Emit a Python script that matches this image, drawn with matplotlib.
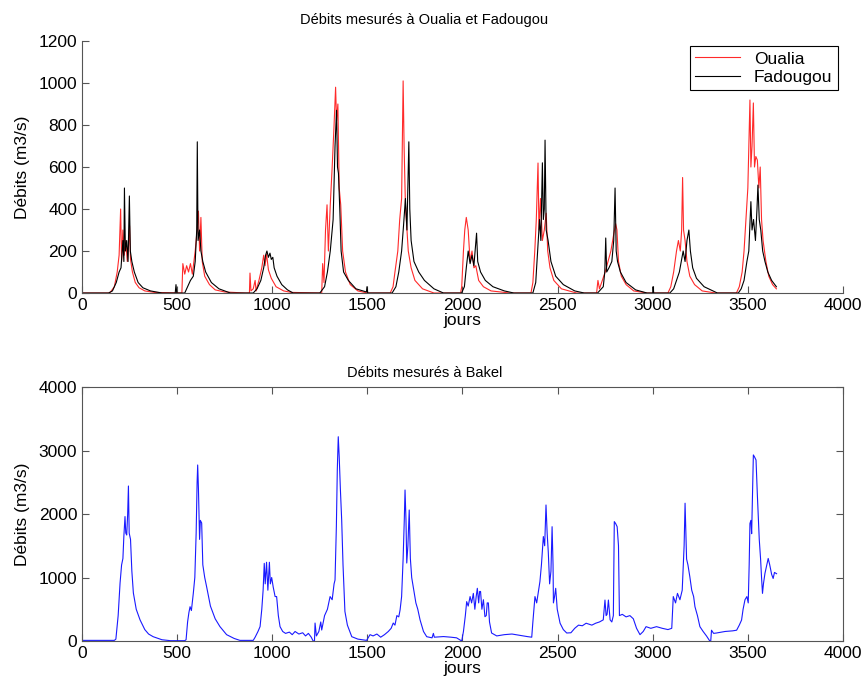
import matplotlib.pyplot as plt

plt.rcParams["font.family"] = ["Liberation Sans", "DejaVu Sans"]

# Oualia (red) - jour, debit
oualia_jours = [0, 140, 150, 170, 185, 195, 203, 208, 215, 222, 230, 238, 245, 250, 255, 265, 280, 300, 330, 380, 520,
                525, 530, 540, 550, 560, 570, 580, 595, 605, 612, 618, 625, 632, 645, 670, 700, 750, 860,
                880, 883, 888, 900, 910, 915, 930, 945, 955, 962, 970, 980, 995, 1020, 1060, 1100, 1260,
                1265, 1272, 1280, 1288, 1295, 1305, 1315, 1325, 1333, 1338, 1345, 1352, 1360, 1370, 1385, 1410, 1450, 1500,
                1620, 1635, 1645, 1660, 1670, 1680, 1688, 1693, 1700, 1708, 1715, 1730, 1750, 1790, 1850,
                1990, 1996, 2005, 2012, 2020, 2030, 2040, 2050, 2060, 2070, 2085, 2110, 2150, 2250,
                2360, 2370, 2380, 2388, 2397, 2402, 2410, 2420, 2430, 2440, 2448, 2460, 2480, 2520, 2600,
                2705, 2712, 2720, 2735, 2750, 2765, 2780, 2795, 2805, 2812, 2820, 2835, 2860, 2900, 2970,
                3080, 3095, 3110, 3125, 3135, 3145, 3152, 3157, 3162, 3170, 3180, 3195, 3220, 3260, 3330,
                3440, 3455, 3470, 3480, 3490, 3500, 3511, 3516, 3522, 3529, 3535, 3542, 3550, 3558, 3565, 3572,
                3580, 3595, 3610, 3630, 3650]
oualia_debits = [0, 0, 5, 30, 100, 180, 400, 150, 300, 180, 250, 150, 230, 320, 160, 100, 50, 25, 10, 3, 0,
                 0, 140, 90, 130, 100, 140, 90, 200, 300, 390, 200, 360, 150, 80, 40, 15, 5, 0,
                 0, 95, 10, 20, 60, 10, 60, 120, 180, 130, 185, 110, 70, 30, 10, 3, 0,
                 140, 50, 300, 420, 200, 420, 600, 800, 980, 820, 900, 500, 420, 200, 100, 40, 10, 0,
                 0, 30, 100, 200, 350, 450, 1010, 700, 420, 300, 200, 120, 60, 20, 0,
                 0, 30, 200, 300, 360, 300, 150, 200, 120, 130, 60, 30, 10, 0,
                 0, 50, 200, 350, 619, 300, 450, 250, 300, 380, 200, 120, 60, 20, 0,
                 0, 60, 20, 60, 100, 150, 200, 280, 330, 300, 150, 80, 40, 10, 0,
                 0, 30, 100, 200, 250, 200, 300, 550, 300, 250, 150, 80, 40, 10, 0,
                 0, 30, 100, 200, 350, 500, 919, 600, 700, 905, 600, 650, 633, 500, 600, 350,
                 250, 150, 80, 40, 20]

# Fadougou (black)
fadougou_jours = [0, 140, 160, 180, 195, 205, 215, 220, 223, 228, 235, 242, 249, 254, 262, 275, 295, 320, 360, 420,
                  490, 494, 498, 540, 555, 570, 585, 595, 603, 606, 610, 618, 625, 635, 650, 680, 720, 780,
                  900, 920, 940, 955, 965, 972, 980, 988, 995, 1003, 1010, 1025, 1050, 1080, 1110,
                  1250, 1275, 1290, 1305, 1320, 1330, 1338, 1343, 1348, 1355, 1362, 1375, 1400, 1440, 1495, 1498, 1502,
                  1630, 1650, 1665, 1680, 1690, 1700, 1708, 1713, 1718, 1723, 1730, 1745, 1770, 1800, 1850, 1900,
                  1995, 2010, 2020, 2030, 2040, 2050, 2060, 2074, 2080, 2095, 2120, 2160, 2220, 2270,
                  2370, 2385, 2395, 2405, 2412, 2420, 2425, 2430, 2434, 2440, 2450, 2465, 2490, 2530, 2590, 2640,
                  2710, 2740, 2748, 2753, 2758, 2770, 2785, 2795, 2802, 2808, 2815, 2830, 2860, 2910, 2970, 3000, 3002, 3005,
                  3090, 3110, 3125, 3140, 3150, 3160, 3170, 3180, 3190, 3198, 3210, 3230, 3270, 3340,
                  3450, 3465, 3480, 3495, 3505, 3516, 3522, 3530, 3540, 3548, 3553, 3560, 3568, 3578, 3590, 3605,
                  3625, 3650]
fadougou_debits = [0, 0, 10, 50, 100, 120, 250, 150, 500, 200, 250, 150, 462, 200, 150, 100, 50, 25, 10, 0,
                   0, 40, 0, 0, 30, 60, 80, 150, 300, 720, 250, 300, 200, 150, 100, 50, 20, 0,
                   0, 20, 60, 120, 180, 200, 170, 190, 160, 170, 120, 80, 40, 15, 0,
                   0, 30, 100, 200, 350, 700, 870, 600, 570, 400, 200, 100, 60, 20, 5, 30, 0,
                   0, 30, 100, 200, 320, 450, 300, 500, 720, 400, 250, 150, 100, 60, 20, 0,
                   0, 30, 120, 200, 140, 180, 130, 285, 150, 100, 60, 30, 10, 0,
                   0, 50, 200, 350, 250, 620, 350, 400, 728, 300, 250, 150, 80, 40, 10, 0,
                   0, 30, 100, 262, 100, 120, 150, 250, 500, 200, 150, 100, 50, 15, 0, 0, 30, 0,
                   0, 20, 60, 100, 150, 200, 150, 250, 300, 200, 120, 70, 30, 0,
                   0, 20, 60, 150, 200, 435, 300, 350, 250, 400, 514, 350, 300, 200, 150, 100,
                   60, 30]

# Bakel (blue)
bakel_jours = [0, 170, 178, 190, 200, 208, 215, 220, 226, 230, 235, 240, 244, 248, 255, 262, 270, 285, 305, 330, 350,
               374, 420, 465, 540,
               547, 555, 562, 568, 575, 585, 593, 600, 605, 608, 612, 618, 622, 629, 635, 645, 655, 675, 700, 725,
               760, 800, 830, 900,
               910, 925, 936, 945, 952, 958, 963, 970, 977, 985, 990, 997, 1005, 1015, 1023, 1032, 1041, 1055, 1070,
               1090, 1105, 1120, 1140, 1160, 1175, 1190, 1205, 1215, 1222,
               1225, 1232, 1245, 1255, 1260, 1275, 1290, 1304, 1315, 1325, 1330, 1337, 1342, 1347, 1352, 1358, 1365,
               1372, 1382, 1395, 1418, 1450, 1496, 1514, 1530, 1550, 1570, 1590, 1610, 1625,
               1636, 1645, 1655, 1665, 1672, 1680, 1688, 1694, 1698, 1703, 1707, 1713, 1720, 1726, 1733, 1741, 1755,
               1765, 1777, 1795, 1812, 1840, 1847, 1852, 1900, 1940, 1969, 1996,
               2005, 2015, 2022, 2030, 2040, 2048, 2057, 2065, 2072, 2078, 2085, 2090, 2095, 2102, 2110, 2118, 2125,
               2130, 2136, 2142, 2153, 2180, 2220, 2260, 2300, 2340, 2364,
               2370, 2381, 2390, 2400, 2407, 2415, 2425, 2432, 2439, 2445, 2451, 2458, 2465, 2471, 2476, 2478, 2484,
               2490, 2498, 2513, 2530, 2548, 2570, 2590, 2610, 2630, 2650, 2680, 2700, 2720, 2740,
               2749, 2755, 2760, 2767, 2776, 2785, 2793, 2798, 2805, 2813, 2820, 2825, 2840, 2860, 2880, 2898, 2915,
               2933, 2950, 2965, 2990, 3020, 3050, 3080, 3100,
               3108, 3120, 3130, 3143, 3155, 3165, 3170, 3175, 3178, 3185, 3195, 3205, 3215, 3222, 3235, 3248, 3265,
               3283, 3300, 3305, 3309, 3320, 3335, 3380, 3420, 3441,
               3455, 3467, 3475, 3485, 3495, 3502, 3507, 3511, 3516, 3520, 3525, 3529, 3535, 3543, 3550, 3555, 3560,
               3567, 3572, 3577, 3582, 3590, 3600, 3607, 3615, 3625, 3633, 3640, 3651]
bakel_debits = [10, 10, 30, 400, 913, 1197, 1300, 1650, 1960, 1700, 1669, 2000, 2441, 1700, 1600, 1100, 756, 500, 333,
                180, 110, 68, 20, 5, 5,
                20, 300, 450, 540, 480, 750, 1000, 1700, 2500, 2772, 2400, 1600, 1900, 1858, 1200, 1000, 855, 550, 350,
                227, 100, 40, 10, 10,
                60, 150, 227, 500, 800, 1223, 900, 1240, 800, 1240, 900, 1000, 850, 700, 700, 400, 226, 150, 120,
                140, 100, 150, 110, 130, 80, 120, 60, 0, 0,
                283, 80, 150, 300, 173, 400, 500, 700, 650, 900, 960, 1800, 2700, 3217, 2900, 2400, 1905,
                1200, 465, 250, 68, 30, 10, 100, 80, 110, 60, 100, 150, 200,
                283, 250, 400, 380, 490, 700, 1300, 1900, 2378, 1900, 1228, 1500, 2063, 1300, 1000, 855, 600,
                500, 333, 150, 68, 50, 120, 60, 70, 60, 50, 0,
                150, 400, 620, 550, 700, 600, 750, 500, 700, 830, 600, 780, 780, 500, 650, 383, 400,
                600, 600, 300, 126, 80, 100, 110, 90, 70, 60,
                300, 700, 600, 800, 935, 1200, 1645, 1500, 2142, 1700, 1400, 900, 1100, 1800, 1200, 600, 700,
                830, 500, 280, 180, 126, 130, 200, 250, 240, 280, 250, 280, 300, 333,
                645, 400, 420, 645, 333, 300, 400, 1880, 1850, 1800, 1500, 400, 420, 380, 400, 350, 200,
                100, 150, 226, 200, 226, 200, 180, 200,
                700, 600, 750, 650, 800, 1500, 2170, 1600, 1290, 1200, 1013, 800, 700, 540, 400, 226, 150,
                78, 0, 0, 170, 120, 126, 150, 160, 170,
                250, 330, 500, 650, 700, 600, 1200, 1850, 1900, 1690, 2400, 2930, 2900, 2850, 2300, 1960, 1600,
                1290, 1000, 750, 900, 1066, 1200, 1300, 1200, 1050, 985, 1080, 1060]

fig = plt.figure(figsize=(8.66, 6.88), dpi=100)
ax1 = fig.add_axes([0.0947, 0.5741, 0.8787, 0.3663])
ax2 = fig.add_axes([0.0947, 0.0683, 0.8787, 0.3692])

grey = "#555555"

ax1.plot(oualia_jours, oualia_debits, color="#ff2a2a", lw=0.8, label="Oualia")
ax1.plot(fadougou_jours, fadougou_debits, color="black", lw=0.8, label="Fadougou")
ax1.set_xlim(0, 4000)
ax1.set_ylim(0, 1200)
ax1.set_xticks(range(0, 4001, 500))
ax1.set_yticks(range(0, 1201, 200))
ax1.spines["top"].set_visible(False)
ax1.spines["right"].set_visible(False)
ax1.set_title("Débits mesurés à Oualia et Fadougou", fontsize=10.5, pad=12, x=0.45)
ax1.set_xlabel("jours", fontsize=12.5, labelpad=0)
ax1.set_ylabel("Débits (m3/s)", fontsize=12.5, labelpad=6)
leg = ax1.legend(loc="upper right", fontsize=12.5, fancybox=False, framealpha=1,
                 edgecolor="black", borderaxespad=0.3, handlelength=2.6,
                 borderpad=0.3, labelspacing=0.2)
leg.get_frame().set_linewidth(0.8)

ax2.plot(bakel_jours, bakel_debits, color="#1a1aff", lw=0.8)
ax2.set_xlim(0, 4000)
ax2.set_ylim(0, 4000)
ax2.set_xticks(range(0, 4001, 500))
ax2.set_yticks(range(0, 4001, 1000))
ax2.set_title("Débits mesurés à Bakel", fontsize=10.5, pad=7, x=0.45)
ax2.set_xlabel("jours", fontsize=12.5, labelpad=0)
ax2.set_ylabel("Débits (m3/s)", fontsize=12.5, labelpad=6)
ax2.tick_params(top=True, right=True)

for ax in (ax1, ax2):
    ax.tick_params(direction="in", length=5, width=0.8, color=grey, labelsize=12.5)
    for s in ax.spines.values():
        s.set_color(grey)
        s.set_linewidth(0.8)

fig.savefig("out.png", dpi=100)
